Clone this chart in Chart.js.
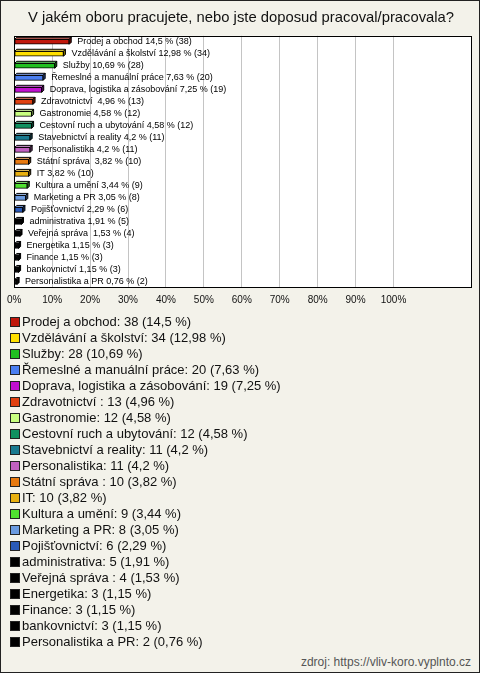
<!DOCTYPE html>
<html>
<head>
<meta charset="utf-8">
<script src="https://cdn.jsdelivr.net/npm/chart.js@4/dist/chart.umd.min.js"></script>
<style>
  html, body { margin: 0; padding: 0; background: #f3f2ea; }
  #frame { position: relative; width: 478px; height: 671px; border: 1px solid #222; background: #f3f2ea; font-family: "Liberation Sans", Arial, sans-serif; overflow: hidden; }
  #chartBox { position: absolute; left: 0; top: 0; width: 478px; height: 317px; }
  #legend { position: absolute; left: 9px; top: 313px; margin: 0; padding: 0; list-style: none; }
  #legend li { height: 16px; line-height: 16px; font-size: 13px; color: #111; white-space: nowrap; display: flex; align-items: center; }
  #legend .sw { display: inline-block; width: 8px; height: 8px; border: 1px solid #222; margin-right: 2px; }
  #source { position: absolute; right: 8px; top: 653px; font-size: 12px; color: #555; line-height: 16px; }
</style>
</head>
<body>
<div id="frame">
  <div id="chartBox"><canvas id="c"></canvas></div>
  <ul id="legend"></ul>
  <div id="source">zdroj: https://vliv-koro.vyplnto.cz</div>
</div>
<script>
const titleText = 'V jakém oboru pracujete, nebo jste doposud pracoval/pracovala?';
const categories = ['Prodej a obchod', 'Vzdělávání a školství', 'Služby', 'Řemeslné a manuální práce', 'Doprava, logistika a zásobování', 'Zdravotnictví ', 'Gastronomie', 'Cestovní ruch a ubytování', 'Stavebnictví a reality', 'Personalistika', 'Státní správa ', 'IT', 'Kultura a umění', 'Marketing a PR', 'Pojišťovnictví', 'administrativa', 'Veřejná správa ', 'Energetika', 'Finance', 'bankovnictví', 'Personalistika a PR'];
const counts = [38, 34, 28, 20, 19, 13, 12, 12, 11, 11, 10, 10, 9, 8, 6, 5, 4, 3, 3, 3, 2];
const percents = [14.5, 12.98, 10.69, 7.63, 7.25, 4.96, 4.58, 4.58, 4.2, 4.2, 3.82, 3.82, 3.44, 3.05, 2.29, 1.91, 1.53, 1.15, 1.15, 1.15, 0.76];
const colors = ['#c0180c', '#ffe000', '#20c020', '#4a7ef0', '#c010d0', '#e04010', '#c8ff80', '#109060', '#1a7a90', '#c060c0', '#e87a10', '#e8b010', '#50e030', '#6a9ae0', '#2a5ab8', '#000000', '#000000', '#000000', '#000000', '#000000', '#000000'];
const tickValues = [0, 10, 20, 30, 40, 50, 60, 70, 80, 90, 100];
const axisMax = 120.7;

const fmt = v => String(v).replace('.', ',');

// HTML legend
const ul = document.getElementById('legend');
categories.forEach((c, i) => {
  const li = document.createElement('li');
  const sw = document.createElement('span');
  sw.className = 'sw';
  sw.style.background = colors[i];
  li.appendChild(sw);
  li.appendChild(document.createTextNode(c + ': ' + counts[i] + ' (' + fmt(percents[i]) + ' %)'));
  ul.appendChild(li);
});

function shade(hex, f) {
  const n = parseInt(hex.slice(1), 16);
  let r = (n >> 16) & 255, g = (n >> 8) & 255, b = n & 255;
  if (f < 0) { r = Math.round(r * (1 + f)); g = Math.round(g * (1 + f)); b = Math.round(b * (1 + f)); }
  else { r = Math.round(r + (255 - r) * f); g = Math.round(g + (255 - g) * f); b = Math.round(b + (255 - b) * f); }
  return 'rgb(' + r + ',' + g + ',' + b + ')';
}

const plotBg = {
  id: 'plotBg',
  beforeDraw(chart) {
    const { ctx, chartArea: a } = chart;
    ctx.save();
    ctx.fillStyle = '#ffffff';
    ctx.fillRect(a.left, a.top, a.right - a.left, a.bottom - a.top);
    ctx.restore();
  },
  afterDraw(chart) {
    const { ctx, chartArea: a } = chart;
    ctx.save();
    ctx.strokeStyle = '#000';
    ctx.lineWidth = 1;
    ctx.strokeRect(Math.round(a.left) + 0.5, Math.round(a.top) + 0.5, Math.round(a.right - a.left) - 1, Math.round(a.bottom - a.top) - 1);
    ctx.restore();
  }
};

const bars3d = {
  id: 'bars3d',
  afterDatasetsDraw(chart) {
    const ctx = chart.ctx;
    const meta = chart.getDatasetMeta(0);
    const d = 2;
    ctx.save();
    ctx.lineWidth = 1;
    ctx.strokeStyle = '#000';
    meta.data.forEach((el, i) => {
      const x0 = el.base, x1 = el.x, top = el.y - el.height / 2, bot = el.y + el.height / 2;
      ctx.beginPath();
      ctx.moveTo(x0, top); ctx.lineTo(x0 + d, top - d); ctx.lineTo(x1 + d, top - d); ctx.lineTo(x1, top); ctx.closePath();
      ctx.fillStyle = shade(colors[i], 0.35); ctx.fill(); ctx.stroke();
      ctx.beginPath();
      ctx.moveTo(x1, top); ctx.lineTo(x1 + d, top - d); ctx.lineTo(x1 + d, bot - d); ctx.lineTo(x1, bot); ctx.closePath();
      ctx.fillStyle = shade(colors[i], -0.5); ctx.fill(); ctx.stroke();
      ctx.fillStyle = '#000';
      ctx.font = '9px "Liberation Sans", Arial, sans-serif';
      ctx.textBaseline = 'middle';
      ctx.textAlign = 'left';
      ctx.fillText(categories[i] + ' ' + fmt(percents[i]) + ' % (' + counts[i] + ')', x1 + 8, el.y);
    });
    ctx.restore();
  }
};

new Chart(document.getElementById('c'), {
  type: 'bar',
  data: {
    labels: categories,
    datasets: [{
      data: percents,
      backgroundColor: colors,
      borderColor: '#000',
      borderWidth: 1,
      borderSkipped: false,
      barThickness: 5
    }]
  },
  plugins: [plotBg, bars3d],
  options: {
    indexAxis: 'y',
    responsive: true,
    maintainAspectRatio: false,
    animation: false,
    layout: { padding: { left: 9, right: 7, top: 0, bottom: 6 } },
    plugins: {
      legend: { display: false },
      tooltip: { enabled: false },
      title: {
        display: true,
        text: titleText,
        color: '#111',
        font: { family: '"Liberation Sans", Arial, sans-serif', size: 14.8, weight: 'normal' },
        padding: { top: 8, bottom: 9 }
      }
    },
    scales: {
      y: { display: false },
      x: {
        min: 0,
        max: axisMax,
        border: { display: false },
        grid: {
          drawTicks: false,
          color: ctx => (ctx.tick && tickValues.includes(ctx.tick.value)) ? '#c4c4c4' : 'rgba(0,0,0,0)'
        },
        ticks: {
          stepSize: 10,
          padding: 6,
          color: '#111',
          maxRotation: 0,
          autoSkip: false,
          font: { family: '"Liberation Sans", Arial, sans-serif', size: 10 },
          callback: v => tickValues.includes(v) ? v + '%' : ''
        }
      }
    }
  }
});
</script>
</body>
</html>
